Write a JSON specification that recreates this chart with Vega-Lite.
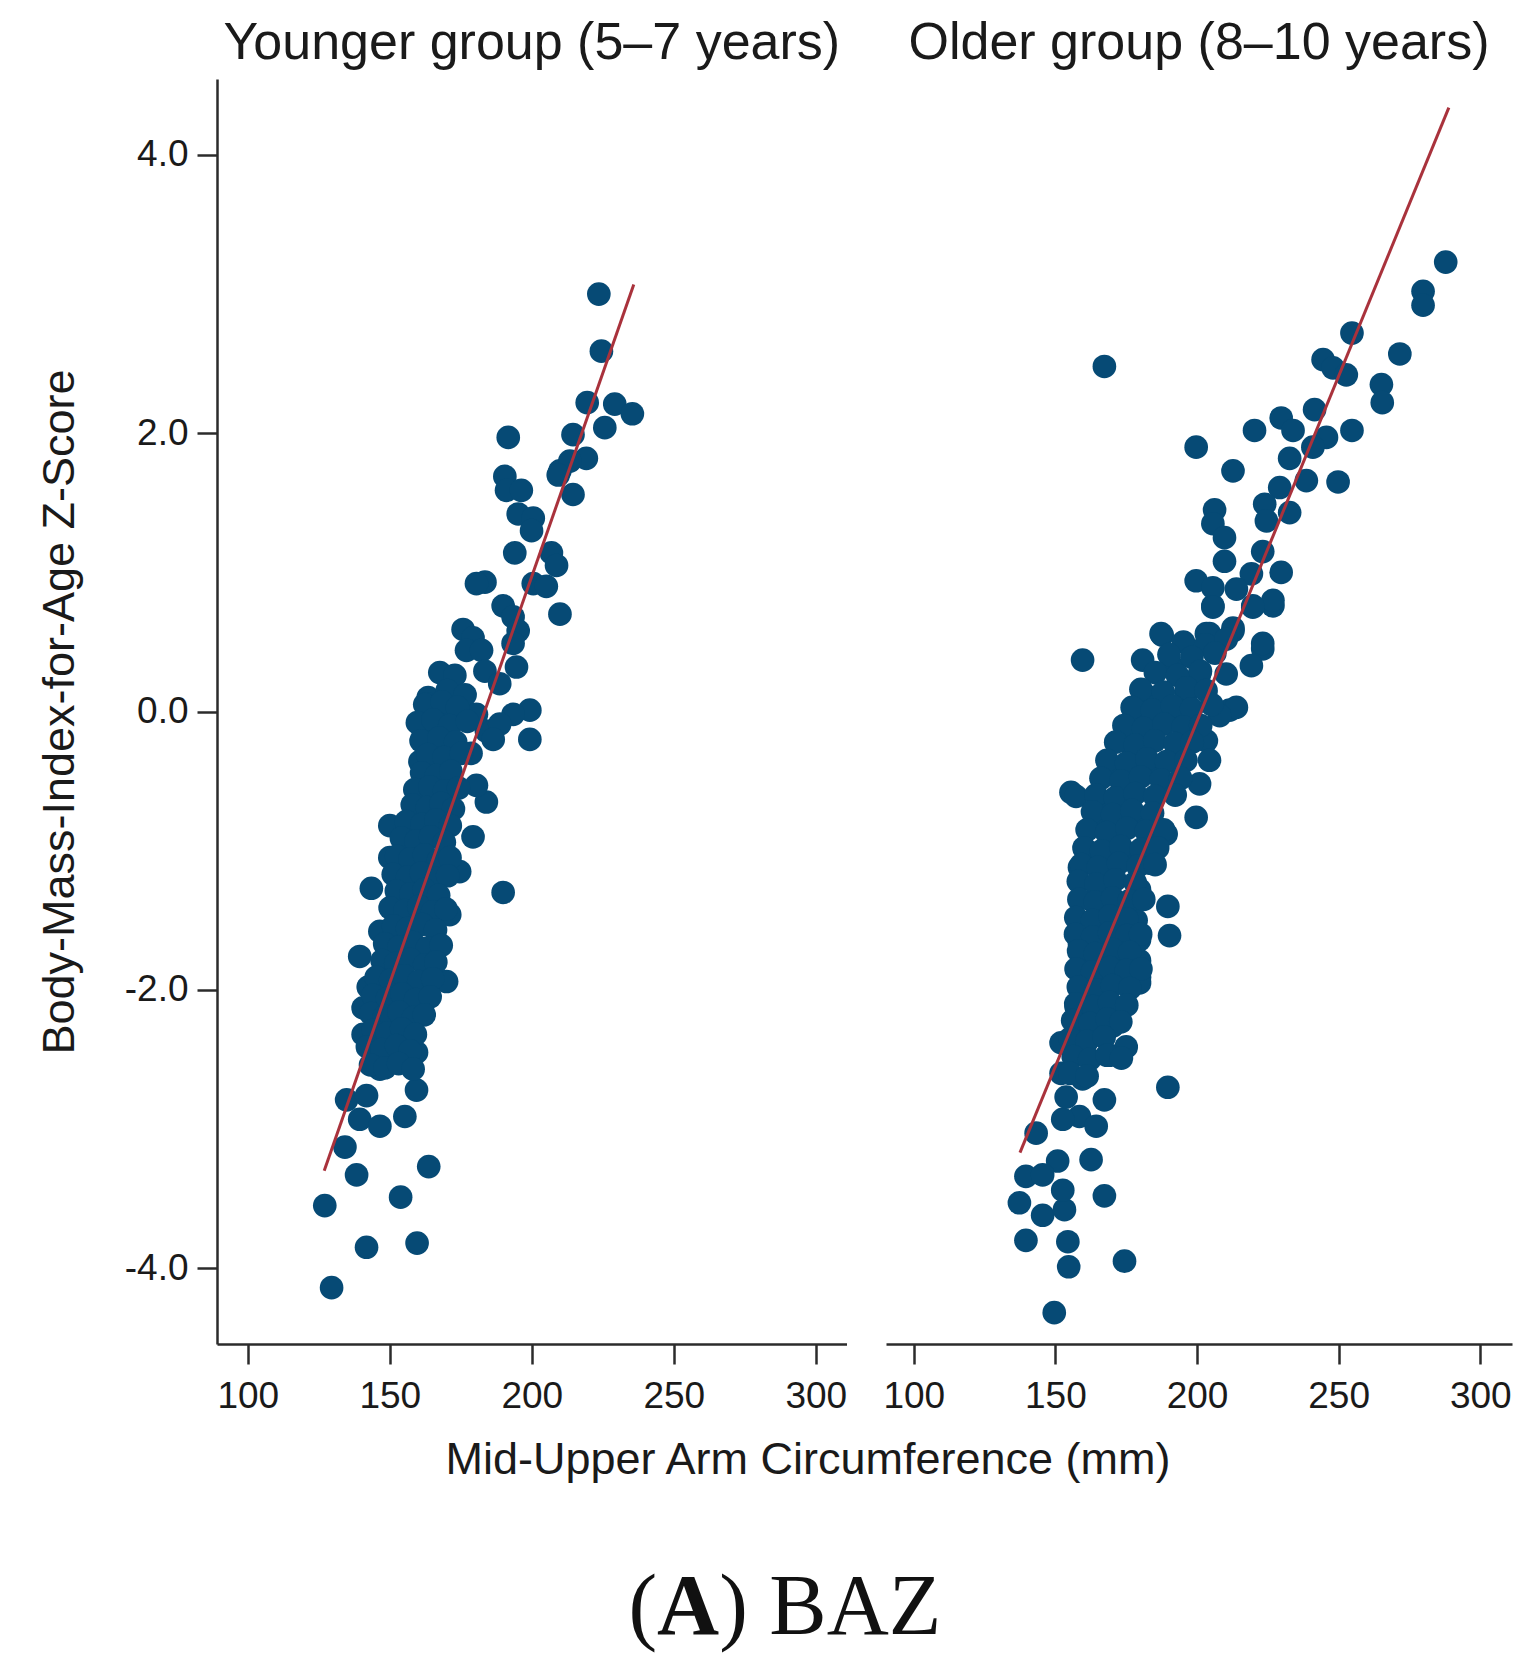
{
"$schema": "https://vega.github.io/schema/vega-lite/v6.json",
"background": "white",
"padding": {"left": 37, "top": 17, "right": 10, "bottom": 0},
"config": {
  "view": {"stroke": null},
  "font": "Liberation Sans",
  "axis": {"grid": false, "domainColor": "#2b2b2b", "domainWidth": 2.5, "tickColor": "#2b2b2b", "tickWidth": 2.5, "tickSize": 20, "labelColor": "#1a1a1a", "labelFont": "Liberation Sans", "labelFontSize": 37, "labelFlush": false, "titleFont": "Liberation Sans", "titleFontSize": 45, "titleFontWeight": "normal", "titleColor": "#1a1a1a"},
  "title": {"font": "Liberation Sans", "fontSize": 52, "fontWeight": "normal", "color": "#1a1a1a", "offset": 9, "baseline": "bottom"}
},
"datasets": {
  "younger": [
    {"muac":223.6,"baz":3.00},{"muac":224.5,"baz":2.59},{"muac":219.5,"baz":2.22},{"muac":229.2,"baz":2.21},{"muac":235.4,"baz":2.14},{"muac":225.7,"baz":2.04},{"muac":191.7,"baz":1.97},{"muac":214.5,"baz":1.99},{"muac":219.2,"baz":1.82},{"muac":209.9,"baz":1.73},{"muac":213.4,"baz":1.80},{"muac":214.5,"baz":1.56},{"muac":209.3,"baz":1.70},{"muac":190.5,"baz":1.69},{"muac":191.1,"baz":1.59},{"muac":196.3,"baz":1.59},{"muac":195.2,"baz":1.42},{"muac":200.5,"baz":1.39},{"muac":199.9,"baz":1.30},{"muac":194.0,"baz":1.14},{"muac":206.9,"baz":1.14},{"muac":208.7,"baz":1.05},{"muac":183.5,"baz":0.93},{"muac":180.5,"baz":0.92},{"muac":200.5,"baz":0.92},{"muac":205.1,"baz":0.90},{"muac":209.9,"baz":0.70},{"muac":189.9,"baz":0.76},{"muac":193.4,"baz":0.68},{"muac":195.2,"baz":0.58},{"muac":175.8,"baz":0.59},{"muac":179.3,"baz":0.53},{"muac":177.0,"baz":0.44},{"muac":182.3,"baz":0.44},{"muac":193.4,"baz":0.49},{"muac":194.6,"baz":0.32},{"muac":167.6,"baz":0.28},{"muac":172.9,"baz":0.26},{"muac":183.5,"baz":0.29},{"muac":188.7,"baz":0.20},{"muac":163.5,"baz":0.10},{"muac":172.3,"baz":0.01},{"muac":199.3,"baz":0.01},{"muac":193.4,"baz":-0.02},{"muac":199.3,"baz":-0.20},{"muac":161.7,"baz":-0.14},{"muac":184.0,"baz":-0.14},{"muac":188.7,"baz":-0.09},
    {"muac":129.5,"baz":-4.14},{"muac":127.1,"baz":-3.55},{"muac":141.8,"baz":-3.85},{"muac":159.6,"baz":-3.82},{"muac":153.8,"baz":-3.49},{"muac":163.7,"baz":-3.27},{"muac":138.3,"baz":-3.33},{"muac":134.2,"baz":-3.13},{"muac":134.8,"baz":-2.79},{"muac":139.4,"baz":-2.93},{"muac":146.5,"baz":-2.98},{"muac":155.3,"baz":-2.91},{"muac":159.4,"baz":-2.72},{"muac":141.8,"baz":-2.76},{"muac":146.5,"baz":-2.57},{"muac":159.4,"baz":-2.45},{"muac":140.6,"baz":-2.32},{"muac":151.2,"baz":-2.35},{"muac":140.6,"baz":-2.13},{"muac":161.7,"baz":-2.10},{"muac":170.0,"baz":-1.94},{"muac":142.4,"baz":-1.98},{"muac":139.4,"baz":-1.76},{"muac":165.8,"baz":-1.69},{"muac":146.5,"baz":-1.58},{"muac":171.1,"baz":-1.46},{"muac":143.5,"baz":-1.27},{"muac":189.9,"baz":-1.30},{"muac":174.6,"baz":-1.15},{"muac":150.0,"baz":-1.05},{"muac":179.3,"baz":-0.90},{"muac":150.0,"baz":-0.82},{"muac":184.0,"baz":-0.65},{"muac":160.6,"baz":-0.36},{"muac":186.4,"baz":-0.20},{"muac":180.5,"baz":-0.53},{"muac":162.9,"baz":-0.09},{"muac":174.6,"baz":0.02},{"muac":164.0,"baz":0.05},{"muac":170.2,"baz":0.15},{"muac":176.5,"baz":0.12},{"muac":180.5,"baz":-0.02},{"muac":178.6,"baz":-0.30},
    {"muac":162.3,"baz":0.05},{"muac":168.4,"baz":0.07},{"muac":173.8,"baz":0.03},
    {"muac":159.7,"baz":-0.08},{"muac":165.2,"baz":-0.06},{"muac":171.1,"baz":-0.10},{"muac":177.3,"baz":-0.07},
    {"muac":161.0,"baz":-0.21},{"muac":167.3,"baz":-0.19},{"muac":173.2,"baz":-0.22},
    {"muac":163.4,"baz":-0.31},{"muac":169.1,"baz":-0.33},{"muac":175.2,"baz":-0.30},
    {"muac":161.2,"baz":-0.44},{"muac":166.4,"baz":-0.46},{"muac":171.5,"baz":-0.43},
    {"muac":158.8,"baz":-0.56},{"muac":164.1,"baz":-0.54},{"muac":169.3,"baz":-0.57},{"muac":174.2,"baz":-0.55},
    {"muac":157.9,"baz":-0.67},{"muac":163.2,"baz":-0.69},{"muac":168.1,"baz":-0.66},{"muac":172.4,"baz":-0.70},
    {"muac":155.8,"baz":-0.79},{"muac":161.3,"baz":-0.81},{"muac":166.2,"baz":-0.78},{"muac":171.3,"baz":-0.82},
    {"muac":154.1,"baz":-0.91},{"muac":159.2,"baz":-0.93},{"muac":164.3,"baz":-0.90},{"muac":169.2,"baz":-0.94},
    {"muac":152.4,"baz":-1.04},{"muac":157.1,"baz":-1.06},{"muac":162.2,"baz":-1.03},{"muac":167.1,"baz":-1.07},{"muac":171.2,"baz":-1.05},
    {"muac":151.2,"baz":-1.17},{"muac":156.3,"baz":-1.19},{"muac":161.1,"baz":-1.16},{"muac":166.3,"baz":-1.20},{"muac":170.4,"baz":-1.18},
    {"muac":152.3,"baz":-1.29},{"muac":157.4,"baz":-1.31},{"muac":162.1,"baz":-1.28},{"muac":167.2,"baz":-1.32},
    {"muac":150.1,"baz":-1.41},{"muac":155.3,"baz":-1.43},{"muac":160.2,"baz":-1.40},{"muac":165.1,"baz":-1.44},{"muac":169.8,"baz":-1.42},
    {"muac":151.3,"baz":-1.54},{"muac":156.2,"baz":-1.56},{"muac":161.4,"baz":-1.53},{"muac":166.1,"baz":-1.57},
    {"muac":148.2,"baz":-1.67},{"muac":153.3,"baz":-1.69},{"muac":158.1,"baz":-1.66},{"muac":163.2,"baz":-1.70},{"muac":168.1,"baz":-1.68},
    {"muac":147.3,"baz":-1.79},{"muac":152.1,"baz":-1.81},{"muac":157.2,"baz":-1.78},{"muac":162.3,"baz":-1.82},{"muac":166.2,"baz":-1.80},
    {"muac":145.2,"baz":-1.91},{"muac":150.3,"baz":-1.93},{"muac":155.1,"baz":-1.90},{"muac":160.2,"baz":-1.94},{"muac":165.1,"baz":-1.92},
    {"muac":144.1,"baz":-2.04},{"muac":149.2,"baz":-2.06},{"muac":154.3,"baz":-2.03},{"muac":159.1,"baz":-2.07},{"muac":164.2,"baz":-2.05},
    {"muac":143.3,"baz":-2.17},{"muac":148.1,"baz":-2.19},{"muac":153.2,"baz":-2.16},{"muac":158.3,"baz":-2.20},{"muac":162.1,"baz":-2.18},
    {"muac":144.2,"baz":-2.29},{"muac":149.1,"baz":-2.31},{"muac":154.2,"baz":-2.28},{"muac":159.0,"baz":-2.32},
    {"muac":142.1,"baz":-2.41},{"muac":147.2,"baz":-2.43},{"muac":152.3,"baz":-2.40},{"muac":157.1,"baz":-2.44},
    {"muac":143.2,"baz":-2.54},{"muac":148.3,"baz":-2.56},{"muac":153.1,"baz":-2.53},{"muac":158.2,"baz":-2.57}
  ],
  "older": [
    {"muac":149.6,"baz":-4.32},{"muac":174.4,"baz":-3.95},{"muac":154.7,"baz":-3.99},{"muac":139.6,"baz":-3.80},{"muac":154.4,"baz":-3.81},{"muac":137.3,"baz":-3.53},{"muac":145.5,"baz":-3.62},{"muac":153.2,"baz":-3.58},{"muac":167.3,"baz":-3.48},{"muac":152.6,"baz":-3.44},{"muac":139.6,"baz":-3.34},{"muac":150.8,"baz":-3.23},{"muac":145.5,"baz":-3.33},{"muac":162.6,"baz":-3.22},{"muac":143.2,"baz":-3.03},{"muac":189.7,"baz":-2.70},{"muac":167.3,"baz":-2.79},{"muac":158.5,"baz":-2.91},{"muac":152.6,"baz":-2.93},{"muac":164.4,"baz":-2.98},{"muac":153.8,"baz":-2.77},{"muac":159.6,"baz":-2.64},{"muac":152.0,"baz":-2.60},{"muac":152.0,"baz":-2.38},{"muac":175.0,"baz":-2.41},{"muac":169.1,"baz":-2.47},{"muac":160.8,"baz":-2.38},{"muac":158.5,"baz":-2.26},{"muac":170.2,"baz":-2.26},{"muac":157.3,"baz":-2.12},{"muac":170.2,"baz":-2.14},{"muac":159.6,"baz":-1.91},{"muac":179.7,"baz":-1.91},{"muac":170.2,"baz":-1.93},{"muac":179.7,"baz":-1.79},
    {"muac":159.6,"baz":0.37},{"muac":187.7,"baz":0.55},{"muac":155.5,"baz":-0.58},{"muac":157.3,"baz":-0.61},{"muac":189.7,"baz":-1.40},{"muac":190.3,"baz":-1.61},{"muac":223.2,"baz":0.45},{"muac":219.2,"baz":0.33},{"muac":211.5,"baz":0.01},{"muac":213.9,"baz":0.03},{"muac":208.0,"baz":-0.03},{"muac":226.8,"baz":0.76},{"muac":219.7,"baz":0.76},{"muac":205.6,"baz":0.76},{"muac":212.7,"baz":0.58},{"muac":203.3,"baz":0.56},{"muac":180.8,"baz":0.37},{"muac":191.4,"baz":0.32},{"muac":200.9,"baz":0.27},{"muac":210.3,"baz":0.27},{"muac":184.4,"baz":0.10},{"muac":196.2,"baz":0.13},{"muac":179.7,"baz":-0.06},{"muac":193.8,"baz":-0.04},{"muac":175.0,"baz":-0.21},{"muac":203.3,"baz":-0.21},{"muac":204.4,"baz":-0.35},{"muac":170.2,"baz":-0.40},{"muac":183.2,"baz":-0.40},{"muac":200.9,"baz":-0.52},{"muac":169.1,"baz":-0.66},{"muac":199.7,"baz":-0.76},{"muac":189.1,"baz":-0.88},{"muac":164.4,"baz":-0.81},{"muac":177.3,"baz":-0.76},{"muac":158.5,"baz":-1.12},{"muac":183.2,"baz":-1.09},{"muac":173.8,"baz":-1.00},{"muac":165.5,"baz":-1.03},{"muac":179.7,"baz":-1.28},{"muac":163.2,"baz":-1.36},{"muac":159.6,"baz":-1.52},{"muac":178.5,"baz":-1.50},{"muac":170.2,"baz":-1.48},{"muac":158.5,"baz":-1.67},{"muac":179.7,"baz":-1.64},{"muac":160.8,"baz":-1.83},{"muac":179.7,"baz":-1.95},{"muac":169.1,"baz":-1.83},{"muac":159.6,"baz":-2.00},{"muac":171.4,"baz":-1.59},{"muac":165.5,"baz":-1.71},{"muac":176.1,"baz":-1.79},
    {"muac":287.8,"baz":3.23},{"muac":279.8,"baz":3.02},{"muac":279.8,"baz":2.92},{"muac":254.7,"baz":2.72},{"muac":271.6,"baz":2.57},{"muac":244.5,"baz":2.53},{"muac":248.0,"baz":2.47},{"muac":252.7,"baz":2.42},{"muac":265.1,"baz":2.35},{"muac":265.4,"baz":2.22},{"muac":167.3,"baz":2.48},{"muac":241.5,"baz":2.17},{"muac":229.7,"baz":2.11},{"muac":220.3,"baz":2.02},{"muac":233.9,"baz":2.02},{"muac":245.7,"baz":1.97},{"muac":254.7,"baz":2.02},{"muac":240.9,"baz":1.90},{"muac":232.7,"baz":1.82},{"muac":199.7,"baz":1.90},{"muac":212.7,"baz":1.73},{"muac":238.6,"baz":1.66},{"muac":249.8,"baz":1.65},{"muac":229.2,"baz":1.61},{"muac":223.9,"baz":1.49},{"muac":232.7,"baz":1.43},{"muac":206.2,"baz":1.45},{"muac":224.5,"baz":1.37},{"muac":205.6,"baz":1.35},{"muac":209.7,"baz":1.25},{"muac":223.2,"baz":1.15},{"muac":209.7,"baz":1.08},{"muac":229.7,"baz":1.00},{"muac":219.2,"baz":0.99},{"muac":199.7,"baz":0.94},{"muac":205.6,"baz":0.89},{"muac":213.9,"baz":0.88},{"muac":226.8,"baz":0.80},{"muac":205.6,"baz":0.75},{"muac":219.7,"baz":0.75},{"muac":187.3,"baz":0.56},{"muac":223.2,"baz":0.49},{"muac":204.4,"baz":0.56},{"muac":212.7,"baz":0.60},
    {"muac":195.2,"baz":0.50},{"muac":203.1,"baz":0.48},{"muac":210.3,"baz":0.52},
    {"muac":190.1,"baz":0.41},{"muac":198.2,"baz":0.39},{"muac":206.3,"baz":0.42},
    {"muac":185.3,"baz":0.28},{"muac":193.1,"baz":0.26},{"muac":201.2,"baz":0.29},
    {"muac":180.2,"baz":0.16},{"muac":188.1,"baz":0.14},{"muac":196.3,"baz":0.17},{"muac":203.2,"baz":0.15},
    {"muac":177.1,"baz":0.03},{"muac":184.2,"baz":0.01},{"muac":191.3,"baz":0.04},{"muac":198.1,"baz":0.02},{"muac":205.2,"baz":0.05},
    {"muac":174.2,"baz":-0.10},{"muac":181.1,"baz":-0.12},{"muac":188.3,"baz":-0.09},{"muac":195.1,"baz":-0.11},{"muac":201.3,"baz":-0.10},
    {"muac":171.3,"baz":-0.22},{"muac":178.2,"baz":-0.24},{"muac":185.1,"baz":-0.21},{"muac":192.2,"baz":-0.23},{"muac":198.3,"baz":-0.22},
    {"muac":168.2,"baz":-0.35},{"muac":175.1,"baz":-0.37},{"muac":182.3,"baz":-0.34},{"muac":189.2,"baz":-0.36},{"muac":196.1,"baz":-0.35},
    {"muac":166.1,"baz":-0.48},{"muac":173.2,"baz":-0.50},{"muac":180.1,"baz":-0.47},{"muac":187.3,"baz":-0.49},{"muac":194.2,"baz":-0.48},
    {"muac":164.3,"baz":-0.60},{"muac":171.1,"baz":-0.62},{"muac":178.2,"baz":-0.59},{"muac":185.1,"baz":-0.61},{"muac":192.3,"baz":-0.60},
    {"muac":163.1,"baz":-0.72},{"muac":170.2,"baz":-0.74},{"muac":177.1,"baz":-0.71},{"muac":184.3,"baz":-0.73},
    {"muac":161.2,"baz":-0.85},{"muac":168.1,"baz":-0.87},{"muac":175.3,"baz":-0.84},{"muac":182.1,"baz":-0.86},{"muac":188.2,"baz":-0.85},
    {"muac":160.1,"baz":-0.98},{"muac":166.3,"baz":-1.00},{"muac":173.1,"baz":-0.97},{"muac":180.2,"baz":-0.99},{"muac":186.1,"baz":-0.98},
    {"muac":159.2,"baz":-1.10},{"muac":165.1,"baz":-1.12},{"muac":172.3,"baz":-1.09},{"muac":179.1,"baz":-1.11},{"muac":185.2,"baz":-1.10},
    {"muac":158.1,"baz":-1.22},{"muac":164.3,"baz":-1.24},{"muac":171.1,"baz":-1.21},{"muac":178.2,"baz":-1.23},
    {"muac":158.3,"baz":-1.35},{"muac":164.1,"baz":-1.37},{"muac":170.2,"baz":-1.34},{"muac":176.1,"baz":-1.36},{"muac":181.2,"baz":-1.35},
    {"muac":157.2,"baz":-1.48},{"muac":163.1,"baz":-1.50},{"muac":169.3,"baz":-1.47},{"muac":175.2,"baz":-1.49},
    {"muac":157.1,"baz":-1.60},{"muac":163.2,"baz":-1.62},{"muac":169.1,"baz":-1.59},{"muac":175.3,"baz":-1.61},{"muac":180.1,"baz":-1.60},
    {"muac":158.2,"baz":-1.72},{"muac":164.1,"baz":-1.74},{"muac":170.3,"baz":-1.71},{"muac":176.2,"baz":-1.73},
    {"muac":157.3,"baz":-1.85},{"muac":163.1,"baz":-1.87},{"muac":169.2,"baz":-1.84},{"muac":175.1,"baz":-1.86},{"muac":180.2,"baz":-1.85},
    {"muac":158.1,"baz":-1.98},{"muac":164.2,"baz":-2.00},{"muac":170.1,"baz":-1.97},{"muac":176.3,"baz":-1.99},
    {"muac":157.2,"baz":-2.10},{"muac":163.3,"baz":-2.12},{"muac":169.1,"baz":-2.09},{"muac":175.2,"baz":-2.11},
    {"muac":156.1,"baz":-2.22},{"muac":162.2,"baz":-2.24},{"muac":168.3,"baz":-2.21},{"muac":173.1,"baz":-2.23},
    {"muac":155.2,"baz":-2.35},{"muac":161.1,"baz":-2.37},{"muac":167.2,"baz":-2.34},
    {"muac":156.3,"baz":-2.48},{"muac":162.1,"baz":-2.50},{"muac":168.2,"baz":-2.47},{"muac":173.3,"baz":-2.49},
    {"muac":155.1,"baz":-2.60},{"muac":161.2,"baz":-2.62}
  ],
  "younger_fit": [{"muac":126.9,"baz":-3.30},{"muac":235.9,"baz":3.07}],
  "older_fit": [{"muac":137.5,"baz":-3.17},{"muac":288.9,"baz":4.34}],
  "caption": [{"part":"("},{"part":"A"},{"part":") BAZ"}]
},
"vconcat": [
  {
    "hconcat": [
      {
        "width": 629.5,
        "height": 1265,
        "title": {"text": "Younger group (5–7 years)"},
        "encoding": {
          "x": {"field": "muac", "type": "quantitative",
                "scale": {"domain": [89.15, 310.8], "nice": false, "zero": false},
                "axis": {"values": [100,150,200,250,300], "format": "d", "labelPadding": 14.5, "titlePadding": 23, "title": "Mid-Upper Arm Circumference (mm)", "titleX": 590.5}},
          "y": {"field": "baz", "type": "quantitative",
                "scale": {"domain": [-4.545, 4.546], "nice": false, "zero": false},
                "axis": {"values": [-4,-2,0,2,4], "labelExpr": "(datum.value < 0 ? '-' : '') + format(abs(datum.value), '.1f')", "labelPadding": 9, "titlePadding": 42, "title": "Body-Mass-Index-for-Age Z-Score"}}
        },
        "layer": [
          {"data": {"name": "younger"}, "mark": {"type": "circle", "size": 560, "color": "#064a75", "opacity": 1}},
          {"data": {"name": "younger_fit"}, "mark": {"type": "line", "color": "#a9323c", "strokeWidth": 3}}
        ]
      },
      {
        "width": 626,
        "height": 1265,
        "title": {"text": "Older group (8–10 years)"},
        "encoding": {
          "x": {"field": "muac", "type": "quantitative",
                "scale": {"domain": [90.2, 311.2], "nice": false, "zero": false},
                "axis": {"values": [100,150,200,250,300], "format": "d", "labelPadding": 14.5, "title": null}},
          "y": {"field": "baz", "type": "quantitative",
                "scale": {"domain": [-4.545, 4.546], "nice": false, "zero": false},
                "axis": null}
        },
        "layer": [
          {"data": {"name": "older"}, "mark": {"type": "circle", "size": 560, "color": "#064a75", "opacity": 1}},
          {"data": {"name": "older_fit"}, "mark": {"type": "line", "color": "#a9323c", "strokeWidth": 3}}
        ]
      }
    ],
    "spacing": 39,
    "bounds": "flush"
  },
  {
    "width": 1113,
    "height": 170,
    "data": {"name": "caption"},
    "encoding": {"text": {"field": "part", "type": "nominal"}},
    "layer": [
      {"transform": [{"filter": "datum.part === '('"}], "mark": {"type": "text", "font": "Liberation Serif", "fontSize": 86, "fontWeight": "normal", "align": "left", "baseline": "alphabetic", "dx": -145, "dy": 65.5, "color": "#111111"}},
      {"transform": [{"filter": "datum.part === 'A'"}], "mark": {"type": "text", "font": "Liberation Serif", "fontSize": 86, "fontWeight": "bold", "align": "left", "baseline": "alphabetic", "dx": -116.4, "dy": 65.5, "color": "#111111"}},
      {"transform": [{"filter": "datum.part === ') BAZ'"}], "mark": {"type": "text", "font": "Liberation Serif", "fontSize": 86, "fontWeight": "normal", "align": "left", "baseline": "alphabetic", "dx": -54.3, "dy": 65.5, "color": "#111111"}}
    ]
  }
],
"spacing": 0
}
